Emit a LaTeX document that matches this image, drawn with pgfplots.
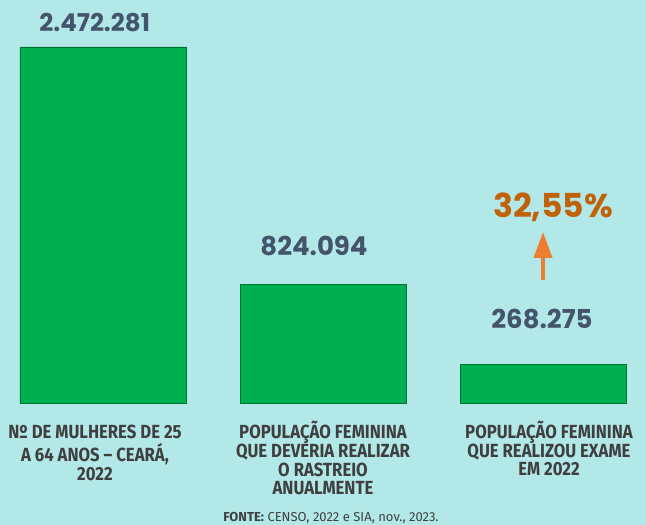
\documentclass[border=0pt]{standalone}
\usepackage{pgfplots}
\pgfplotsset{compat=1.18}
\usetikzlibrary{arrows.meta}
\usepackage{fontspec}
\setmainfont{Fira Sans}
\newfontfamily\pop{Poppins}
\definecolor{bg}{HTML}{B3E8E8}
\definecolor{barg}{HTML}{00B050}
\definecolor{valc}{HTML}{44546A}
\definecolor{orgt}{HTML}{C0620A}
\definecolor{arr}{HTML}{ED7D31}
\definecolor{catc}{HTML}{3F3F3F}
\newcommand{\catlab}[1]{\scalebox{0.88}[1]{\begin{tabular}[t]{@{}c@{}}#1\end{tabular}}}
\begin{document}
\begin{tikzpicture}[x=1pt,y=1pt]
\useasboundingbox (0,0) rectangle (646,525);
\fill[bg] (0,0) rectangle (646,525);
\begin{axis}[
  at={(4pt,122pt)}, anchor=south west, scale only axis,
  width=638pt, height=374.4pt,
  xmin=-0.45, xmax=2.45, ymin=0, ymax=2600000,
  axis lines=none, clip=false,
  ybar, bar width=166pt, bar shift=0pt,
  xtick=\empty, ytick=\empty,
]
\addplot[fill=barg, draw=black!35!barg, line width=0.5pt] coordinates {(0,2472281) (1,824094) (2,268275)};
\end{axis}
% value labels
\node[valc, anchor=base, inner sep=0pt, font=\fontsize{24.5}{28}\selectfont\pop\bfseries] at (94.7,493.3) {2.472.281};
\node[valc, anchor=base, inner sep=0pt, font=\fontsize{26}{28}\selectfont\pop\bfseries] at (314,269.3) {824.094};
\node[valc, anchor=base, inner sep=0pt, font=\fontsize{26}{28}\selectfont\pop\bfseries] at (542,196.7) {268.275};
% percentage and arrow
\node[orgt, anchor=base, font=\fontsize{33}{36}\selectfont\pop\bfseries] at (553,307) {32,55\%};
\draw[arr, line width=4pt, -{Triangle[width=18pt,length=26pt]}] (543,245) -- (543,293);
% category labels
\node[catc, anchor=base, inner sep=0pt, font=\fontsize{19}{18}\selectfont\bfseries] at (95,86.7) {\catlab{Nº DE MULHERES DE 25\\A 64 ANOS – CEARÁ,\\2022}};
\node[catc, anchor=base, inner sep=0pt, font=\fontsize{19}{18}\selectfont\bfseries] at (323,86.7) {\catlab{POPULAÇÃO FEMININA\\QUE DEVERIA REALIZAR\\O RASTREIO\\ANUALMENTE}};
\node[catc, anchor=base, inner sep=0pt, font=\fontsize{19}{18}\selectfont\bfseries] at (549,86.7) {\catlab{POPULAÇÃO FEMININA\\QUE REALIZOU EXAME\\EM 2022}};
% source
\node[catc, anchor=base, inner sep=0pt, font=\fontsize{13}{15}\selectfont] at (331,3.5) {\textbf{FONTE:} CENSO, 2022 e SIA, nov., 2023.};
\end{tikzpicture}
\end{document}
